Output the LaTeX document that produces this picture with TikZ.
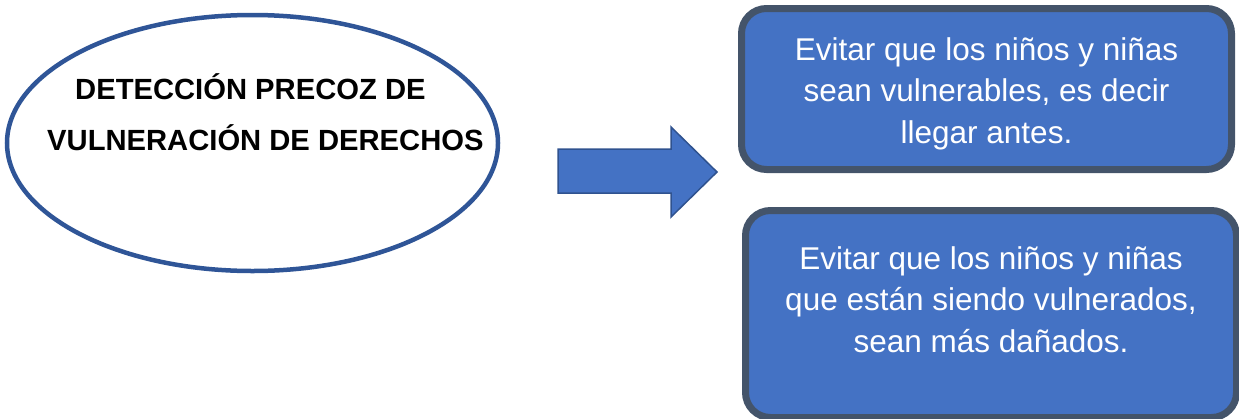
\documentclass[tikz,border=0pt]{standalone}
\usepackage{fontspec}
\setmainfont{Liberation Sans}
\usetikzlibrary{shapes.geometric}
\definecolor{ellblue}{HTML}{2F5597}
\definecolor{fillblue}{HTML}{4472C4}
\definecolor{arrowedge}{HTML}{2F528F}
\definecolor{boxedge}{HTML}{44546A}
\tikzset{
  ovalshape/.style={draw=ellblue, line width=4.5pt, ellipse, fill=white, inner sep=0pt},
  ovaltext/.style={font=\fontsize{29.2pt}{51pt}\selectfont\bfseries, align=left, inner sep=0pt, text=black},
  bluebox/.style={draw=boxedge, fill=fillblue, line width=7pt, rounded corners=25pt, inner sep=0pt},
  boxtext/.style={font=\fontsize{31.5pt}{41.5pt}\selectfont, align=center, text=white, inner sep=0pt},
  bigarrow/.style={fill=fillblue, draw=arrowedge, line width=1.5pt, line join=miter}
}
\begin{document}
\begin{tikzpicture}[x=1pt,y=-1pt]
\useasboundingbox (0,0) rectangle (1239,418);
% ellipse
\node[ovalshape, minimum width=491pt, minimum height=256pt] (oval) at (252.5,143) {};
\node[ovaltext, anchor=base west] (ovaltxt) at (47,150) {\hspace*{28pt}DETECCIÓN PRECOZ DE\\VULNERACIÓN DE DERECHOS};
% arrow
\draw[bigarrow] (558,149) -- (671,149) -- (671,127) -- (717,172) -- (671,217) -- (671,193) -- (558,193) -- cycle;
% boxes
\node[bluebox, minimum width=490pt, minimum height=161pt] (box1) at (986.5,89) {};
\node[boxtext, anchor=base] (txt1) at (986.5,143) {Evitar que los niños y niñas\\sean vulnerables, es decir\\llegar antes.};
\node[bluebox, minimum width=491pt, minimum height=207pt] (box2) at (991,314) {};
\node[boxtext, anchor=base] (txt2) at (991,352) {Evitar que los niños y niñas\\que están siendo vulnerados,\\sean más dañados.};
\end{tikzpicture}
\end{document}
